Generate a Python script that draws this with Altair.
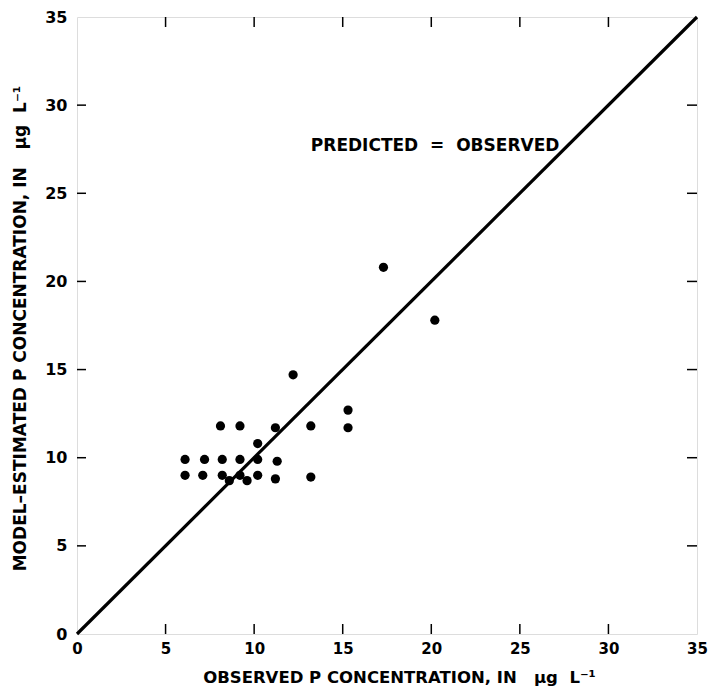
import altair as alt
import pandas as pd

# Observed vs model-estimated P concentration (ug/L)
observed = [6.1, 6.1, 7.2, 7.1, 8.1, 8.2, 8.2, 8.6, 9.2, 9.2, 9.2, 9.6, 10.2, 10.2, 10.2,
            11.2, 11.3, 11.2, 12.2, 13.2, 13.2, 15.3, 15.3, 17.3, 20.2]
estimated = [9.9, 9.0, 9.9, 9.0, 11.8, 9.9, 9.0, 8.7, 11.8, 9.9, 9.0, 8.7, 10.8, 9.9, 9.0,
             11.7, 9.8, 8.8, 14.7, 11.8, 8.9, 12.7, 11.7, 20.8, 17.8]

line_x = [0, 35]
line_y = [0, 35]

tick_values = [0, 5, 10, 15, 20, 25, 30, 35]
inner_ticks = [5, 10, 15, 20, 25, 30]

NB = "\u00a0"
label_text = ["PREDICTED" + NB * 2 + "=" + NB * 2 + "OBSERVED"]
label_x = [13.2]
label_y = [27.7]

x_title = "OBSERVED P CONCENTRATION, IN" + NB * 3 + "μg" + NB * 2 + "L⁻¹"
y_title = "MODEL–ESTIMATED P CONCENTRATION, IN" + NB * 3 + "μg" + NB * 2 + "L⁻¹"

W, H = 620, 617
FONT = "DejaVu Sans"

pts = pd.DataFrame({"obs": observed, "est": estimated})
ln = pd.DataFrame({"obs": line_x, "est": line_y})
tk = pd.DataFrame({"v": inner_ticks})
lab = pd.DataFrame({"t": label_text, "obs": label_x, "est": label_y})

xscale = alt.Scale(domain=[0, 35], nice=False, zero=False)
yscale = alt.Scale(domain=[0, 35], nice=False, zero=False)

xaxis = alt.Axis(values=tick_values, ticks=False, domain=False, grid=False,
                 labelFontSize=15, labelFontWeight="bold", labelFont=FONT,
                 labelColor="black", labelPadding=7, labelFlush=False,
                 title=x_title, titleFont=FONT, titleFontSize=16.5, titleFontWeight="bold",
                 titleColor="black", titleX=322, titleY=43, titleBaseline="middle",
                 titleAnchor="middle")
yaxis = alt.Axis(values=tick_values, ticks=False, domain=False, grid=False,
                 labelFontSize=16, labelFontWeight="bold", labelFont=FONT,
                 labelColor="black", labelPadding=10, labelFlush=False,
                 title=y_title, titleFont=FONT, titleFontSize=17, titleFontWeight="bold",
                 titleColor="black", titleX=-57, titleY=311, titleBaseline="middle",
                 titleAnchor="middle")

base_x = alt.X("obs:Q", scale=xscale, axis=xaxis)
base_y = alt.Y("est:Q", scale=yscale, axis=yaxis)

diag = alt.Chart(ln).mark_line(color="black", strokeWidth=3.2).encode(x=base_x, y=base_y)

points = alt.Chart(pts).mark_point(filled=True, color="black", size=85, opacity=1).encode(
    x=alt.X("obs:Q", scale=xscale), y=alt.Y("est:Q", scale=yscale))

text = alt.Chart(lab).mark_text(align="left", baseline="middle", font=FONT,
                                fontSize=17, fontWeight="bold", color="black").encode(
    x=alt.X("obs:Q", scale=xscale), y=alt.Y("est:Q", scale=yscale), text="t:N")

tick_bottom = alt.Chart(tk).mark_rule(color="black", strokeWidth=1.5).encode(
    x=alt.X("v:Q", scale=xscale), y=alt.value(H), y2=alt.value(H - 10))
tick_top = alt.Chart(tk).mark_rule(color="black", strokeWidth=1.5).encode(
    x=alt.X("v:Q", scale=xscale), y=alt.value(0), y2=alt.value(10))
tick_left = alt.Chart(tk).mark_rule(color="black", strokeWidth=1.5).encode(
    y=alt.Y("v:Q", scale=yscale), x=alt.value(0), x2=alt.value(9))
tick_right = alt.Chart(tk).mark_rule(color="black", strokeWidth=1.5).encode(
    y=alt.Y("v:Q", scale=yscale), x=alt.value(W), x2=alt.value(W - 10))

chart = alt.layer(diag, points, text, tick_bottom, tick_top, tick_left, tick_right).properties(
    width=W, height=H,
    autosize=alt.AutoSizeParams(type="none"),
    padding={"left": 69, "top": 9, "right": 12, "bottom": 53},
).configure_view(stroke="black", strokeWidth=2).configure(background="white")

chart.save("out.html", embed_options={"renderer": "svg", "actions": False})
